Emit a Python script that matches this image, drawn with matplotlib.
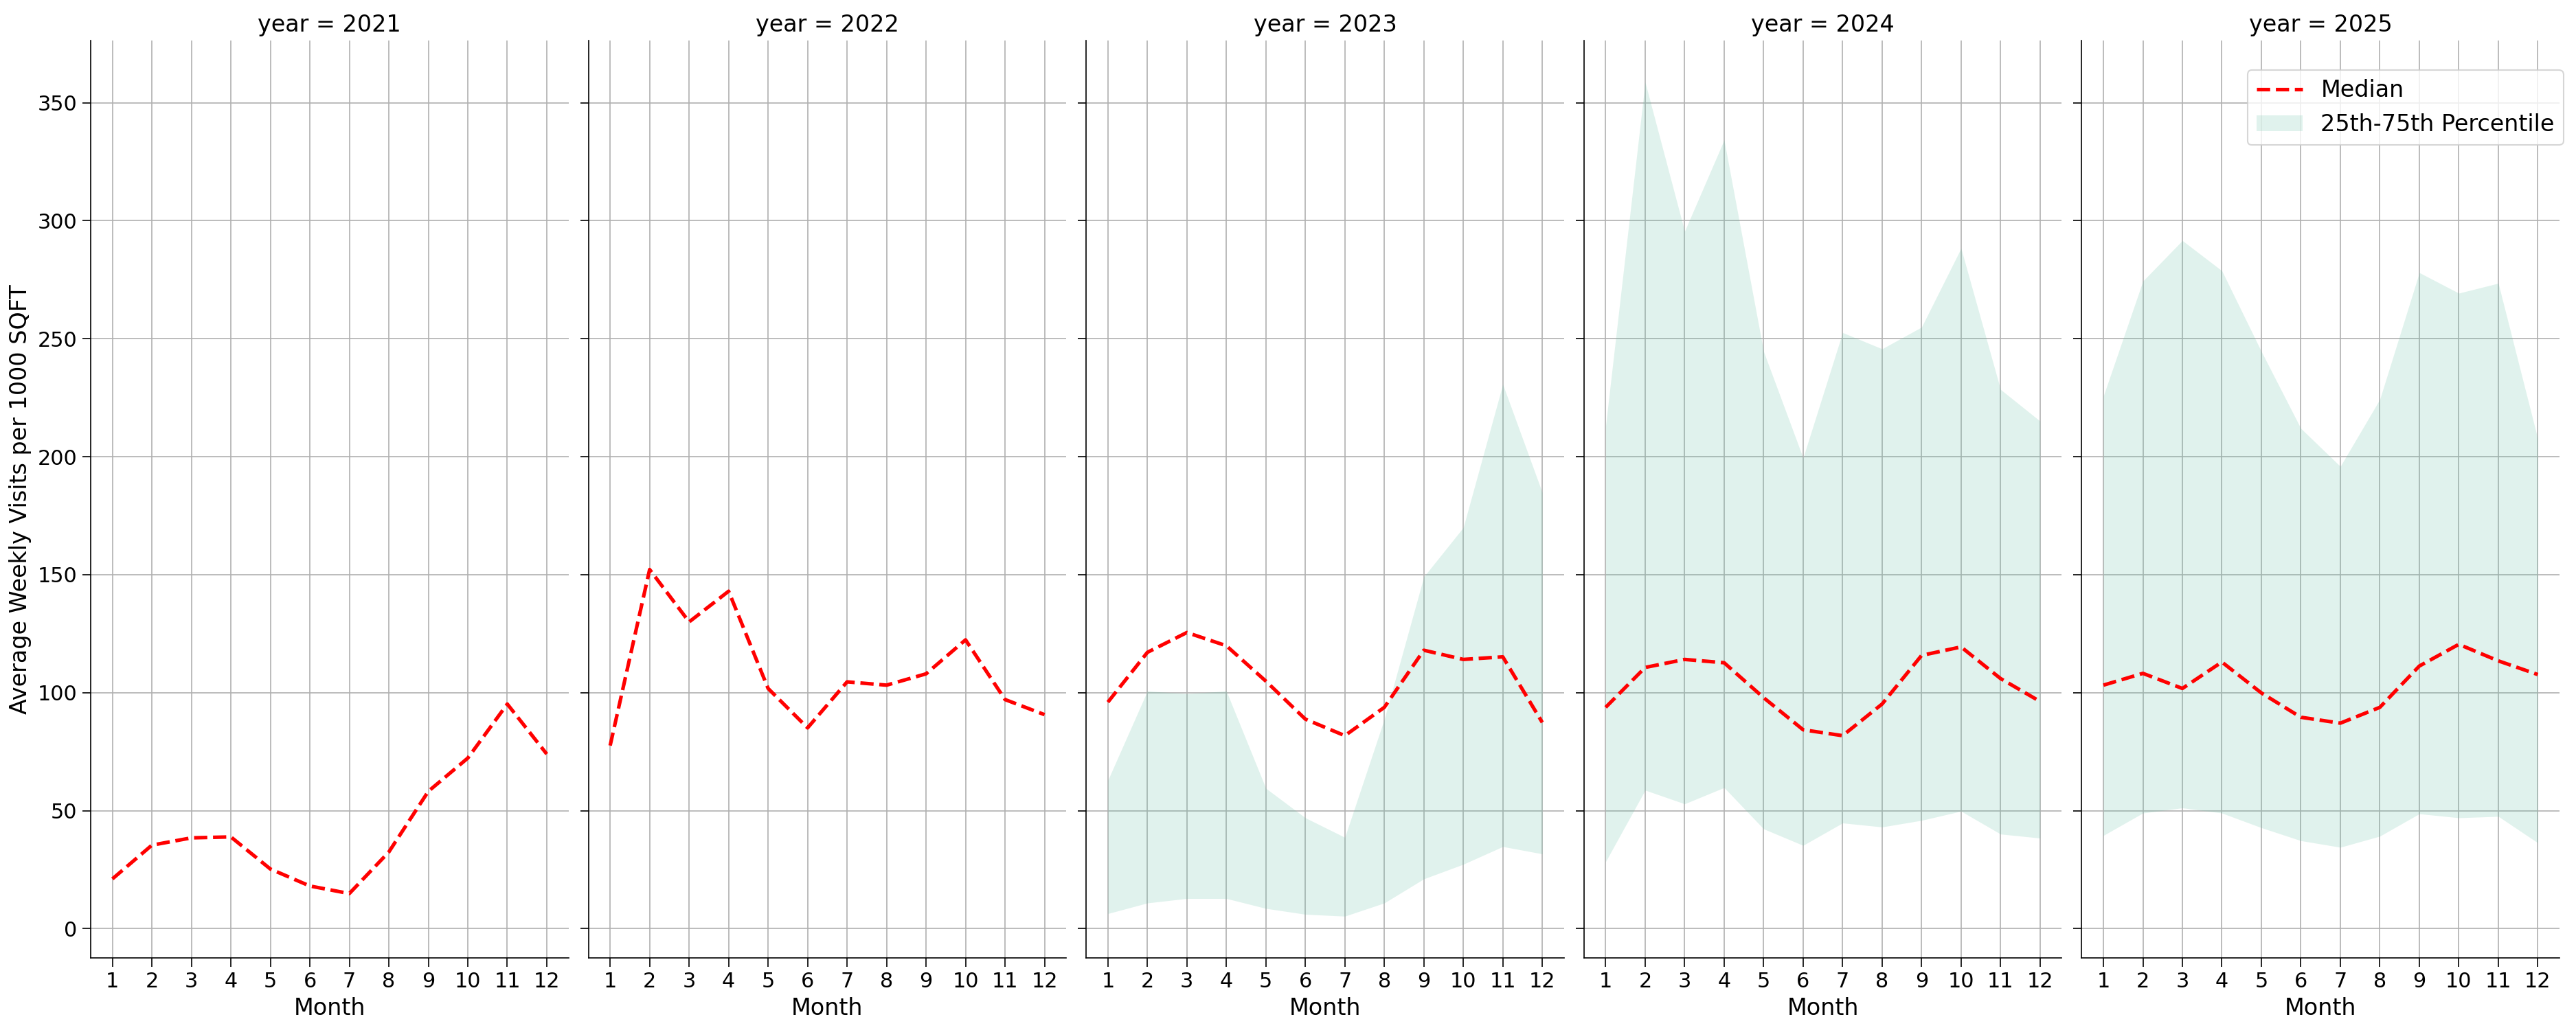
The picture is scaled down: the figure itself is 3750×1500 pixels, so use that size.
import matplotlib
matplotlib.use("Agg")
import matplotlib.pyplot as plt
import numpy as np

plt.rcParams['font.family'] = ['DejaVu Sans']

years = [2021, 2022, 2023, 2024, 2025]
months = list(range(1, 13))

median_2021 = [21.1, 35.4, 38.5, 38.9, 25.3, 18.1, 14.9, 32.5, 58.2, 72.3, 95.2, 74.0]
median_2022 = [77.6, 152.2, 130.0, 143.0, 101.8, 85.1, 104.6, 103.2, 108.0, 122.4, 97.1, 90.7]
median_2023 = [96.0, 117.1, 125.5, 119.9, 104.9, 88.8, 81.8, 93.8, 118.0, 114.1, 115.2, 87.4]
median_2024 = [93.8, 110.7, 114.1, 112.7, 97.9, 84.3, 81.8, 95.2, 115.8, 119.4, 106.0, 96.3]
median_2025 = [103.2, 108.2, 101.8, 113.0, 99.9, 89.6, 87.1, 93.8, 111.3, 120.5, 113.5, 107.7]

p25_2023 = [6.4, 10.9, 12.8, 12.8, 8.6, 6.1, 5.3, 10.9, 21.1, 27.3, 34.8, 31.7]
p75_2023 = [62.9, 100.7, 99.6, 100.7, 59.5, 47.0, 38.7, 88.8, 149.1, 170.0, 230.7, 184.8]
p25_2024 = [28.4, 58.7, 52.9, 59.8, 42.3, 35.3, 44.8, 43.1, 45.9, 49.8, 40.1, 38.4]
p75_2024 = [213.0, 358.7, 295.5, 334.2, 244.6, 199.5, 252.6, 245.7, 254.9, 288.3, 228.5, 215.1]
p25_2025 = [39.5, 49.0, 51.2, 49.0, 42.8, 37.3, 34.5, 39.2, 48.7, 47.0, 47.6, 36.4]
p75_2025 = [225.7, 274.4, 291.6, 278.8, 244.6, 212.0, 195.9, 224.3, 278.0, 269.3, 273.5, 207.6]

medians = {2021: median_2021, 2022: median_2022, 2023: median_2023,
           2024: median_2024, 2025: median_2025}
bands = {2023: (p25_2023, p75_2023), 2024: (p25_2024, p75_2024),
         2025: (p25_2025, p75_2025)}

fig, axes = plt.subplots(1, 5, sharey=True, figsize=(25, 10), dpi=150)
fig.subplots_adjust(left=0.0352, right=0.9936, bottom=0.07, top=0.9607, wspace=0.0417)

for ax, yr in zip(axes, years):
    ax.grid(True, color="#b0b0b0", linewidth=0.8)
    ax.set_axisbelow(True)
    ax.plot(months, medians[yr], color="red", linestyle="--", linewidth=2.5,
            label="Median", zorder=3)
    if yr in bands:
        lo, hi = bands[yr]
        ax.fill_between(months, lo, hi, color="#66c2a5", alpha=0.2, linewidth=0,
                        label="25th-75th Percentile", zorder=2)
    ax.set_title(f"year = {yr}", fontsize=16)
    ax.set_xticks(months)
    ax.set_xlabel("Month", fontsize=16)
    ax.tick_params(axis='both', labelsize=14.5, length=6)
    for s in ["top", "right"]:
        ax.spines[s].set_visible(False)

axes[0].set_ylabel("Average Weekly Visits per 1000 SQFT", fontsize=16)
axes[0].set_yticks([0, 50, 100, 150, 200, 250, 300, 350])
axes[-1].legend(loc="upper right", fontsize=16,
                bbox_to_anchor=(0.9952, 0.932), bbox_transform=fig.transFigure,
                borderaxespad=0)

fig.savefig("out.png", dpi=150)
